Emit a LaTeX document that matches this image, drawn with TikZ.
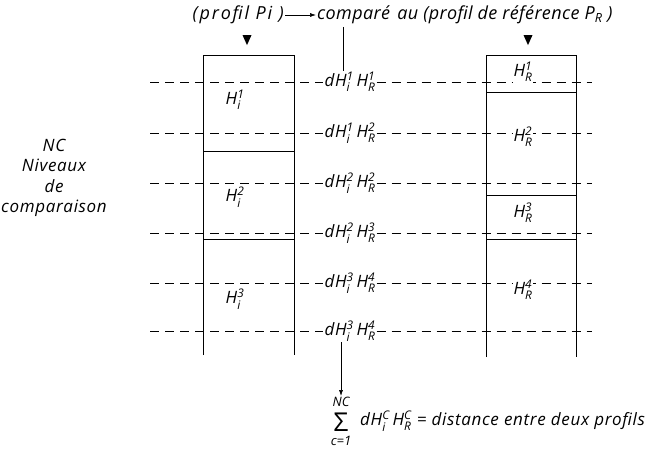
\documentclass[tikz,border=0pt]{standalone}
\usepackage{amsmath}
\usepackage{fontspec}
\setmainfont{Open Sans}

\usetikzlibrary{arrows.meta,shapes.geometric}

\newcommand{\HH}[2]{H$^{\text{#2}}_{\text{#1}}$}

\begin{document}
\begin{tikzpicture}[x=1pt,y=-1pt,font=\itshape\fontsize{17}{19}\selectfont\addfontfeature{LetterSpace=4},>=Latex]
\tikzset{
  col/.style={line width=0.9pt},
  niv/.style={dash pattern=on 9pt off 6pt,line width=0.6pt},
  lbl/.style={inner sep=1pt},
  hr/.style={fill=white,inner sep=1pt},
  titre/.style={inner sep=1pt,font=\itshape\fontsize{18}{20}\selectfont\addfontfeature{LetterSpace=2}},
  tri/.style={isosceles triangle,isosceles triangle stretches,shape border rotate=270,
    fill=black,inner sep=0pt,minimum width=9pt,minimum height=10pt},
  arr/.style={-{Latex[length=6pt,width=4pt]},line width=0.6pt}
}
\useasboundingbox (0,0) rectangle (661,454);

% titre
\node[titre,anchor=east,font=\itshape\fontsize{18}{20}\selectfont\addfontfeature{LetterSpace=10}] (pi) at (285,15) {(profil Pi )};
\node[titre,anchor=west] (cmp) at (316,15) {comparé};
\node[titre,anchor=base west] (ref) at (cmp.base east) {\ au (profil de référence P$_{\text{R}}$ )};
\draw[arr] (pi) -- (cmp);
\node[tri] (ti) at (247,38) {};
\node[tri] (tr) at (528,38) {};

% niveaux de comparaison
\foreach \n/\y/\a/\b in {1/82/1/1,2/133/1/2,3/183/2/2,4/233/2/3,5/283/3/4,6/331/3/4}{
  \node[lbl] (d\n) at (350,\y) {d\HH{i}{\a}\,\HH{R}{\b}};
  \coordinate (g\n) at (150,\y);
  \coordinate (r\n) at (592,\y);
  \draw[niv] (g\n) -- (d\n.west);
  \draw[niv] (d\n.east) -- (r\n);
}
\coordinate (v1) at (343,27);
\draw[line width=0.6pt] (v1) -- (v1 |- d1.north);

% profil Pi
\draw[col] (203,355) -- (203,55) -- (294,55) -- (294,355);
\draw[col] (203,151) -- (294,151);
\draw[col] (203,239) -- (294,239);
\node[lbl] (hi1) at (235,100) {\HH{i}{1}};
\node[lbl] (hi2) at (235,197) {\HH{i}{2}};
\node[lbl] (hi3) at (235,299) {\HH{i}{3}};

% profil de reference
\draw[col] (486,357) -- (486,55) -- (576,55) -- (576,357);
\draw[col] (486,92) -- (576,92);
\draw[col] (486,195) -- (576,195);
\draw[col] (486,239) -- (576,239);
\node[hr] (hr1) at (523,72) {\HH{R}{1}};
\node[hr] (hr2) at (523,137) {\HH{R}{2}};
\node[hr] (hr3) at (523,213) {\HH{R}{3}};
\node[hr] (hr4) at (523,290) {\HH{R}{4}};

\node[align=center,font=\itshape\fontsize{17}{20.5}\selectfont\addfontfeature{LetterSpace=4}] (nc) at (54,178) {NC\\Niveaux\\de\\comparaison};

% somme
\node[lbl,font=\fontsize{26}{26}\selectfont] (sum) at (341,422) {Σ};
\node[lbl,font=\itshape\fontsize{13}{13}\selectfont] (sup) at (341,402) {NC};
\node[lbl,font=\itshape\fontsize{13}{13}\selectfont] (inf) at (341,441) {c=1};
\node[lbl,anchor=west] (dist) at (359,421) {d\HH{i}{C}\,\HH{R}{C} = distance entre deux profils};
\draw[arr] (sup.north |- d6.south) -- (sup.north);
\end{tikzpicture}
\end{document}
